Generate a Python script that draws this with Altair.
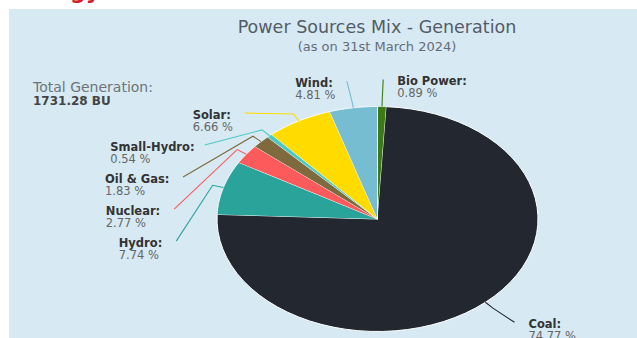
import math
import altair as alt
import pandas as pd

# ---------------- data ----------------
categories = ["Bio Power", "Coal", "Hydro", "Nuclear", "Oil & Gas", "Small-Hydro", "Solar", "Wind"]
shares = [0.89, 74.77, 7.74, 2.77, 1.83, 0.54, 6.66, 4.81]
title_text = "Power Sources Mix - Generation"
subtitle_text = "(as on 31st March 2024)"
total_label = "Total Generation:"
total_value = "1731.28 BU"
heading_fragment = "Energy"

# ---------------- styles / layout ----------------
slice_colors = ["#3b7a14", "#222730", "#2aa39a", "#fd5b5b", "#7e6a3c", "#4cc8c8", "#ffdb00", "#76bdd1"]
BG = "#d7eaf4"
FONT = "DejaVu Sans"
W, H = 637, 338
CX0, CX1 = 217, 538        # horizontal extent of the pie ellipse (px)
CY_TOP, CY_BOT = 106.5, 331.5
PXU = (CX1 - CX0) / 2
PYU = (CY_BOT - CY_TOP) / 2
LX, LY, BEND = 1.27, 1.24, 1.07   # label ellipse radii and connector bend, in pie units
SPACING = 32 / PYU
GAP = 14
LABEL_SIZE = 11.5

# approx. DejaVu Sans Bold advance widths (em)
BOLD_W = {" ": .348, "%": 1.002, "&": .85, "-": .416, ".": .381, ":": .4, "B": .763, "C": .734,
          "G": .821, "H": .837, "N": .837, "O": .85, "P": .733, "S": .72, "W": 1.103, "a": .675,
          "c": .593, "d": .716, "e": .678, "i": .343, "l": .343, "n": .712, "o": .687, "r": .493,
          "s": .595, "u": .712, "w": .924, "y": .652}


def text_w(s, size):
    return sum(BOLD_W.get(ch, .7) for ch in s) * size


XS = alt.Scale(domain=[-1, 1], range=[CX0, CX1], nice=False, zero=False)
YS = alt.Scale(domain=[-1, 1], range=[CY_BOT, CY_TOP], nice=False, zero=False)

# ---------------- label layout derived from shares ----------------
total = sum(shares)
rows = []
cum = 0.0
for name, s in zip(categories, shares):
    mid = 2 * math.pi * (cum + s / 2) / total
    cum += s
    rows.append(dict(name=name, share=s, mid=mid))

for side in (-1, 1):
    grp = [r for r in rows if (math.sin(r["mid"]) < 0) == (side < 0)]
    grp.sort(key=lambda r: -math.cos(r["mid"]))
    prev = None
    for r in grp:
        v = LY * math.cos(r["mid"])
        if prev is not None:
            v = min(v, prev - SPACING)
        prev = v
        r["cv"] = v
        r["cu"] = side * LX * math.sqrt(max(0.0, 1 - (v / LY) ** 2))
        r["side"] = side

lab_rows, conn_rows = [], []
for r in rows:
    label = r["name"] + ":"
    if r["side"] < 0:
        tu = r["cu"] - (GAP + text_w(label, LABEL_SIZE)) / PXU
    else:
        tu = r["cu"] + GAP / PXU
    lab_rows.append(dict(name=r["name"], label=label, pct=f"{r['share']:.2f} %", tu=tu, cv=r["cv"]))
    pts = [(r["cu"], r["cv"]),
           (BEND * math.sin(r["mid"]), BEND * math.cos(r["mid"])),
           (math.sin(r["mid"]), math.cos(r["mid"]))]
    for k, (u, v) in enumerate(pts):
        conn_rows.append(dict(name=r["name"], k=k, u=u, v=v))

lab_df = pd.DataFrame(lab_rows)
conn_df = pd.DataFrame(conn_rows)
pie_df = pd.DataFrame({"name": categories, "share": shares, "idx": list(range(len(categories)))})

color_scale = alt.Scale(domain=categories, range=slice_colors)

# ---------------- layers ----------------
one = pd.DataFrame({"a": [0]})

panel = alt.Chart(one).mark_rect(color=BG).encode(
    x=alt.value(9), x2=alt.value(W), y=alt.value(9), y2=alt.value(H))

heading = alt.Chart(pd.DataFrame({"t": [heading_fragment]})).mark_text(
    align="right", baseline="alphabetic", font=FONT, fontSize=22, fontWeight="bold", color="#d3202b"
).encode(x=alt.value(100), y=alt.value(-1), text="t:N")

pie = alt.Chart(pie_df).transform_joinaggregate(
    total="sum(share)"
).transform_window(
    cum="sum(share)", sort=[alt.SortField("idx")], frame=[None, 0]
).transform_calculate(
    a0="2*PI*(datum.cum-datum.share)/datum.total",
    a1="2*PI*datum.cum/datum.total",
    k="sequence(0, 62)",
).transform_flatten(["k"]).transform_calculate(
    ang="datum.a0 + (datum.a1-datum.a0)*min(datum.k,60)/60",
    u="datum.k > 60 ? 0 : sin(datum.ang)",
    v="datum.k > 60 ? 0 : cos(datum.ang)",
).mark_line(stroke="white", strokeWidth=1, interpolate="linear").encode(
    x=alt.X("u:Q", scale=XS, axis=None),
    y=alt.Y("v:Q", scale=YS, axis=None),
    fill=alt.Fill("name:N", scale=color_scale, legend=None),
    detail="name:N",
    order="k:Q",
)

connectors = alt.Chart(conn_df).mark_line(strokeWidth=1.1).encode(
    x=alt.X("u:Q", scale=XS, axis=None),
    y=alt.Y("v:Q", scale=YS, axis=None),
    stroke=alt.Stroke("name:N", scale=color_scale, legend=None),
    detail="name:N",
    order="k:Q",
)

names = alt.Chart(lab_df).mark_text(
    align="left", baseline="alphabetic", dy=5.5, font=FONT, fontSize=LABEL_SIZE, fontWeight="bold",
    color="#333333"
).encode(x=alt.X("tu:Q", scale=XS, axis=None), y=alt.Y("cv:Q", scale=YS, axis=None), text="label:N")

values = alt.Chart(lab_df).mark_text(
    align="left", baseline="alphabetic", dy=17.5, font=FONT, fontSize=LABEL_SIZE, color="#666666"
).encode(x=alt.X("tu:Q", scale=XS, axis=None), y=alt.Y("cv:Q", scale=YS, axis=None), text="pct:N")

title = alt.Chart(pd.DataFrame({"t": [title_text]})).mark_text(
    align="center", baseline="alphabetic", font=FONT, fontSize=17.5, color="#555b66"
).encode(x=alt.value(377), y=alt.value(33), text="t:N")

subtitle = alt.Chart(pd.DataFrame({"t": [subtitle_text]})).mark_text(
    align="center", baseline="alphabetic", font=FONT, fontSize=13, color="#666d78"
).encode(x=alt.value(377), y=alt.value(51), text="t:N")

tot1 = alt.Chart(pd.DataFrame({"t": [total_label]})).mark_text(
    align="left", baseline="alphabetic", font=FONT, fontSize=14, color="#6f7378"
).encode(x=alt.value(33), y=alt.value(92), text="t:N")

tot2 = alt.Chart(pd.DataFrame({"t": [total_value]})).mark_text(
    align="left", baseline="alphabetic", font=FONT, fontSize=12, fontWeight="bold", color="#444444"
).encode(x=alt.value(33), y=alt.value(105), text="t:N")

chart = alt.layer(
    panel, heading, pie, connectors, names, values, title, subtitle, tot1, tot2
).resolve_scale(fill="shared", stroke="shared").properties(
    width=W, height=H, autosize=alt.AutoSizeParams(type="none"), padding=0, background="white"
).configure_view(strokeWidth=0)

chart.save("out.html", embed_options={"renderer": "svg", "actions": False})
